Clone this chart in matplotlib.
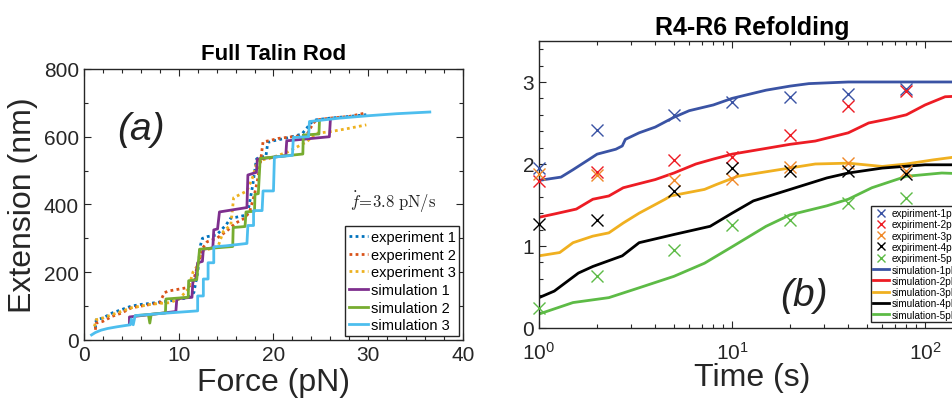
import numpy as np
import matplotlib
matplotlib.use("Agg")
from matplotlib import pyplot as plt
from matplotlib.ticker import MultipleLocator, LogLocator, NullFormatter

plt.rcParams['font.family'] = ['Liberation Sans', 'DejaVu Sans']
plt.rcParams['mathtext.fontset'] = 'custom'
plt.rcParams['mathtext.rm'] = 'Liberation Sans'
plt.rcParams['mathtext.it'] = 'Liberation Sans:italic'

# ---- panel (a): full talin rod, force (pN) vs extension (nm)
exp1_f = [1.2, 1.3, 2, 3, 4, 5, 6, 7, 8, 9, 10, 11, 11.6, 12.0, 12.3, 12.5, 13, 14, 15, 15.5, 16, 17, 17.3,
          17.8, 18.2, 18.5, 19.2, 19.4, 20, 21.7, 23, 24.0, 24.5, 26, 28, 29.8]
exp1_e = [35, 60, 65, 80, 90, 100, 105, 108, 112, 115, 120, 125, 140, 200, 280, 300, 305, 310, 340, 360, 362, 368, 378,
          455, 534, 540, 542, 583, 588, 598, 608, 642, 650, 655, 660, 665]
exp2_f = [1.2, 1.3, 2, 3, 4, 5, 6, 7, 8, 8.5, 9, 10, 11, 11.5, 12, 12.5, 13, 14, 15, 16, 17, 17.5, 18, 18.3,
          18.6, 18.9, 19.5, 20.5, 22, 23.5, 24.2, 24.6, 26, 28, 29.7]
exp2_e = [30, 50, 55, 70, 80, 95, 100, 105, 110, 140, 145, 150, 155, 170, 220, 270, 290, 300, 320, 345, 360, 380, 430, 470,
          520, 585, 588, 595, 600, 605, 640, 650, 655, 660, 670]
exp3_f = [1.1, 1.3, 2, 3, 4, 5, 6, 7, 8, 9, 10, 11, 11.5, 12, 12.6, 13.5, 14.2, 14.7, 15.5, 15.8, 16.5, 17.2,
          17.8, 18.3, 19.5, 20.5, 21.5, 22.5, 23.5, 24.5, 26, 28, 29.8]
exp3_e = [40, 60, 65, 75, 85, 95, 100, 105, 108, 110, 120, 150, 200, 220, 265, 270, 280, 320, 340, 420, 430, 440,
          480, 530, 535, 545, 555, 570, 585, 610, 615, 625, 635]

sim1_f = [4.8, 4.8, 9.7, 9.8, 11.4, 11.5, 11.8, 12.0, 12.5, 12.6, 13.6, 13.7, 14.1, 14.3, 17.2, 17.3, 18.2, 18.3,
          21.3, 21.4, 25.9, 26.0]
sim1_e = [47, 68, 84, 122, 126, 175, 180, 228, 232, 268, 272, 325, 328, 378, 391, 487, 495, 534,
          544, 588, 600, 647]
sim2_f = [5.5, 6.8, 6.95, 7.1, 8.6, 8.65, 11.0, 11.05, 11.9, 12.2, 15.7, 15.75, 17.0, 17.1, 18.0, 18.05, 18.4, 18.6,
          23.1, 23.15, 24.8, 24.85]
sim2_e = [72, 75, 50, 76, 80, 121, 126, 175, 178, 268, 276, 332, 335, 378, 380, 430, 432, 536,
          549, 605, 608, 644]
sim3_f = [0.8, 1.2, 1.8, 2.5, 3.5, 4.9, 5.0, 5.2, 5.4, 8, 10, 12.0, 12.0, 12.6, 12.6, 13.1, 13.1, 13.7, 13.7, 15,
          17.2, 17.3, 17.9, 17.9, 18.8, 18.9, 20.0, 20.1, 22.0, 22.1, 23.7, 23.8, 27, 30, 33, 36.5]
sim3_e = [15, 22, 29, 34, 39, 45, 62, 45, 72, 78, 82, 86, 130, 130, 180, 180, 228, 228, 275, 278,
          285, 338, 338, 382, 382, 440, 440, 540, 545, 598, 600, 645, 655, 662, 668, 673]

# ---- panel (b): R4-R6 refolding, time (s)
exp_t = [1, 2, 5, 10, 20, 40, 80]
exp_vals = [
    [1.95, 2.41, 2.60, 2.75, 2.82, 2.85, 2.91],
    [1.79, 1.90, 2.05, 2.09, 2.35, 2.71, 2.89],
    [1.88, 1.87, 1.81, 1.82, 1.96, 2.01, 1.92],
    [1.27, 1.32, 1.67, 1.95, 1.92, 1.92, 1.88],
    [0.24, 0.63, 0.95, 1.25, 1.32, 1.53, 1.58],
]
sim1_t = [1, 1.3, 1.5, 1.8, 2.0, 2.5, 2.7, 2.8, 3.3, 4, 5, 6, 8, 10, 15, 20, 25, 40, 160]
sim1_v = [1.80, 1.84, 1.93, 2.05, 2.12, 2.18, 2.22, 2.30, 2.38, 2.45, 2.57, 2.65, 2.72, 2.80, 2.90, 2.95, 2.98, 3.0, 3.0]
sim2_t = [1, 1.2, 1.56, 1.9, 2.3, 2.73, 3.3, 4, 5, 6.5, 8, 10, 15, 20, 27, 40, 51, 65, 80, 100, 127, 160]
sim2_v = [1.35, 1.39, 1.45, 1.57, 1.61, 1.71, 1.76, 1.81, 1.89, 2.0, 2.06, 2.12, 2.19, 2.24, 2.28, 2.38, 2.50, 2.55,
          2.60, 2.72, 2.82, 2.83]
sim3_t = [1, 1.28, 1.5, 1.9, 2.3, 2.73, 3.3, 4.5, 4.8, 5.3, 7.2, 8.3, 10.7, 17.5, 27, 40, 60, 80, 110, 160]
sim3_v = [0.88, 0.92, 1.04, 1.12, 1.16, 1.28, 1.40, 1.57, 1.61, 1.63, 1.69, 1.75, 1.85, 1.93, 2.0, 2.01, 1.97, 2.0,
          2.05, 2.10]
sim4_t = [1, 1.2, 1.6, 1.9, 2.7, 3.3, 5, 7.7, 10, 12.9, 20, 31, 40, 60, 100, 160]
sim4_v = [0.37, 0.45, 0.67, 0.75, 0.88, 1.04, 1.14, 1.24, 1.40, 1.55, 1.69, 1.83, 1.89, 1.95, 1.99, 1.99]
sim5_t = [1, 1.5, 2.3, 3.3, 5, 7.2, 10, 15, 20, 31, 40, 53, 80, 122, 160]
sim5_v = [0.17, 0.31, 0.37, 0.49, 0.63, 0.79, 0.99, 1.24, 1.38, 1.49, 1.57, 1.71, 1.85, 1.89, 1.88]

exp_labels = ['expiriment-1pN', 'expiriment-2pN', 'expiriment-3pN', 'expiriment-4pN', 'expiriment-5pN']
sim_labels = ['simulation-1pN', 'simulation-2pN', 'simulation-3pN', 'simulation-4pN', 'simulation-5pN']

tc = '#262626'

fig = plt.figure(figsize=(9.53, 4.10), dpi=100)
ax1 = fig.add_axes([0.0881, 0.1683, 0.3977, 0.661])
ax2 = fig.add_axes([0.5656, 0.1976, 0.447, 0.700])

# panel a
dot = (0, (1, 1.2))
ax1.plot(exp1_f, exp1_e, color='#0072BD', lw=2, ls=dot, label='experiment 1')
ax1.plot(exp2_f, exp2_e, color='#D95319', lw=2, ls=dot, label='experiment 2')
ax1.plot(exp3_f, exp3_e, color='#EDB120', lw=2, ls=dot, label='experiment 3')
ax1.plot(sim1_f, sim1_e, color='#7E2F8E', lw=2, label='simulation 1')
ax1.plot(sim2_f, sim2_e, color='#77AC30', lw=2, label='simulation 2')
ax1.plot(sim3_f, sim3_e, color='#4DBEEE', lw=2, label='simulation 3')
ax1.set_xlim(0, 40)
ax1.set_ylim(0, 800)
ax1.xaxis.set_major_locator(MultipleLocator(10))
ax1.xaxis.set_minor_locator(MultipleLocator(2))
ax1.yaxis.set_major_locator(MultipleLocator(200))
ax1.yaxis.set_minor_locator(MultipleLocator(100))
ax1.set_title('Full Talin Rod', fontsize=16, fontweight='bold', pad=7)
ax1.set_xlabel('Force (pN)', fontsize=23, color=tc, labelpad=2)
ax1.set_ylabel('Extension (nm)', fontsize=23, color=tc, labelpad=4)
ax1.text(0.15, 0.78, '(a)', transform=ax1.transAxes, fontsize=28, style='italic', color='#222222',
         ha='center', va='center')
ax1.text(0.93, 0.51, r'$\dot{f}\!=\!3.8\ \mathrm{pN/s}$', transform=ax1.transAxes, fontsize=12,
         ha='right', va='center', color='#222222', math_fontfamily='cm')
leg1 = ax1.legend(loc='lower right', bbox_to_anchor=(0.99, 0.015), fontsize=10.5, handlelength=1.3,
                  handletextpad=0.2, borderpad=0.25, labelspacing=0.25, borderaxespad=0,
                  fancybox=False, edgecolor='#262626', framealpha=1)
leg1.get_frame().set_linewidth(1.0)

# panel b
sim_colors = ['#3A53A4', '#ED1C24', '#F0B020', '#000000', '#5DBB46']
exp_colors = ['#3A53A4', '#ED1C24', '#F08828', '#000000', '#5DBB46']
for vals, col, lab in zip(exp_vals, exp_colors, exp_labels):
    ax2.plot(exp_t, vals, ls='none', marker='x', ms=8, mew=1.0, color=col, label=lab, clip_on=False, zorder=3)
sims = [(sim1_t, sim1_v), (sim2_t, sim2_v), (sim3_t, sim3_v), (sim4_t, sim4_v), (sim5_t, sim5_v)]
for (t, v), col, lab in zip(sims, sim_colors, sim_labels):
    ax2.plot(t, v, color=col, lw=2.0, label=lab)
ax2.set_xscale('log')
ax2.set_xlim(1, 161)
ax2.set_ylim(0, 3.5)
ax2.yaxis.set_major_locator(MultipleLocator(1))
ax2.yaxis.set_minor_locator(MultipleLocator(0.2))
ax2.xaxis.set_major_locator(LogLocator(base=10, numticks=10))
ax2.xaxis.set_minor_locator(LogLocator(base=10, subs=np.arange(2, 10), numticks=10))
ax2.xaxis.set_minor_formatter(NullFormatter())
ax2.set_title('R4-R6 Refolding', fontsize=18, fontweight='bold', pad=5)
ax2.set_xlabel('Time (s)', fontsize=23, color=tc, labelpad=0)
ax2.text(0.622, 0.115, '(b)', transform=ax2.transAxes, fontsize=28, style='italic', color='#222222',
         ha='center', va='center')
leg2 = ax2.legend(loc='lower left', bbox_to_anchor=(0.779, 0.02), fontsize=7.2, handlelength=1.6,
                  handletextpad=0.2, borderpad=0.25, labelspacing=0.13, borderaxespad=0, markerscale=0.75,
                  fancybox=False, edgecolor='#262626', framealpha=1)
leg2.get_frame().set_linewidth(1.0)

for ax in (ax1, ax2):
    ax.tick_params(which='both', direction='in', top=True, right=True, colors=tc, labelsize=15)
    ax.tick_params(which='major', length=5, width=0.8)
    ax.tick_params(which='minor', length=3, width=0.8)
    for s in ax.spines.values():
        s.set_color(tc)
        s.set_linewidth(1.0)
ax2.tick_params(axis='x', which='major', pad=9)

fig.savefig('out.png', dpi=100)
